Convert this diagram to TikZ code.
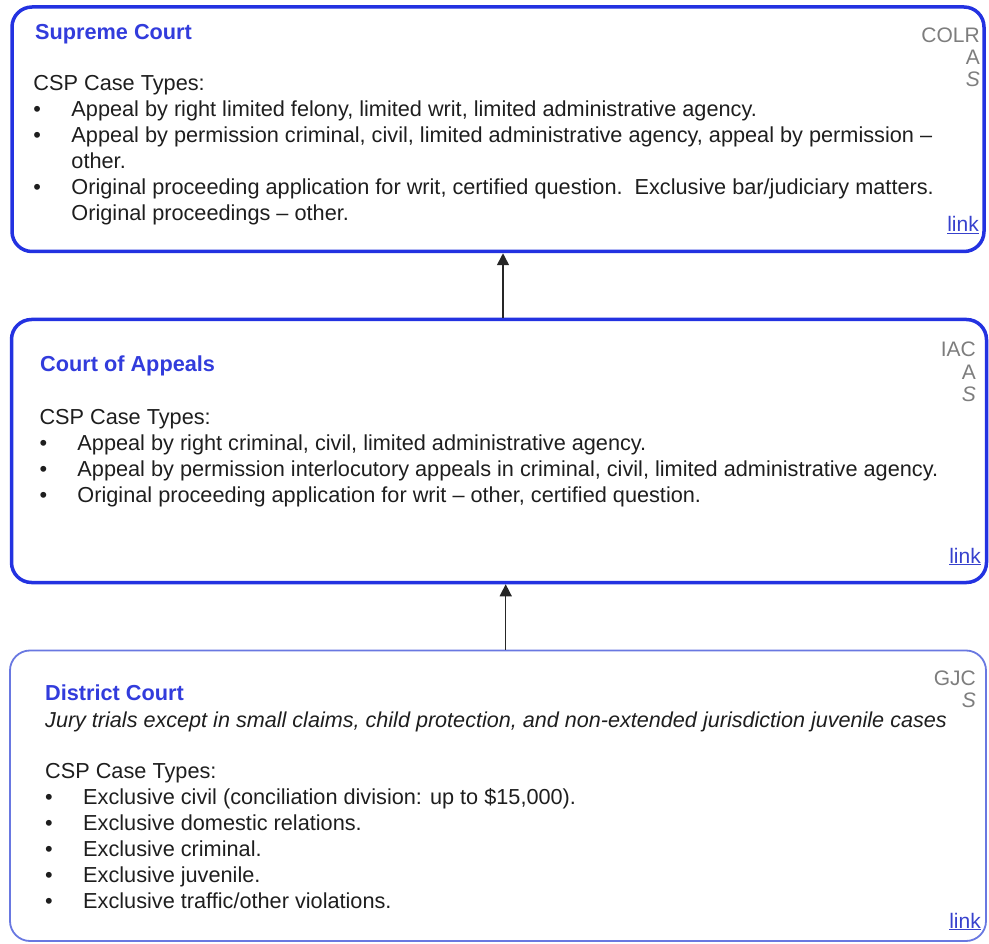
\documentclass[tikz,border=0pt]{standalone}
\usepackage{fontspec}
\setmainfont{Liberation Sans}
\usetikzlibrary{arrows.meta}

\definecolor{boxblue}{RGB}{35,50,225}
\definecolor{lightboxblue}{RGB}{105,120,225}
\definecolor{titleblue}{RGB}{50,60,220}
\definecolor{taggray}{RGB}{125,125,125}
\definecolor{linkblue}{RGB}{55,65,205}
\definecolor{bodytext}{RGB}{30,30,30}

\newcommand{\bitem}{\makebox[38pt][l]{\textbullet}}
\newcommand{\bcont}{\hspace*{38pt}}

\begin{document}
\begin{tikzpicture}[x=1pt, y=-1pt,
	court/.style={draw=boxblue, line width=3.5pt, rounded corners=20pt, inner sep=0pt},
	lowcourt/.style={court, draw=lightboxblue, line width=1.8pt},
	courtname/.style={anchor=base west, inner sep=0pt, text=titleblue, font=\fontsize{21.7}{26}\selectfont\bfseries},
	casetext/.style={anchor=base west, inner sep=0pt, align=left, text=bodytext, font=\fontsize{21.7}{26}\selectfont},
	tag/.style={anchor=base east, inner sep=0pt, align=right, text=taggray, font=\fontsize{21}{22}\selectfont},
	weblink/.style={anchor=base east, inner sep=0pt, text=linkblue, font=\fontsize{21}{26}\selectfont},
	appealarrow/.style={-{Triangle[width=12pt,length=12pt]}, line width=1.5pt, black!85}]
	\useasboundingbox (0,0) rectangle (989,944);

	\node[court, minimum width=972pt, minimum height=244.5pt] (sc) at (498,129.25) {};
	\node[court, minimum width=975pt, minimum height=263pt] (ca) at (499,451) {};
	\node[lowcourt, minimum width=976pt, minimum height=290.5pt] (dc) at (498,795.75) {};

	\draw[appealarrow] ([xshift=4pt]ca.north) -- ([xshift=4pt]ca.north |- sc.south);
	\draw[appealarrow] ([xshift=7.7pt]dc.north) -- ([xshift=7.7pt]dc.north |- ca.south);

	% multi-line nodes sit on the baseline of their last line
	\node[courtname] (scname) at (35,39.5) {Supreme Court};
	\node[tag] (sctag) at (980,87) {COLR\\A\\\textit{S}};
	\node[casetext] (sctext) at (33.3,221) {CSP Case Types:\\
		\bitem Appeal by right limited felony, limited writ, limited administrative agency.\\
		\bitem Appeal by permission criminal, civil, limited administrative agency, appeal by permission --\\
		\bcont other.\\
		\bitem Original proceeding application for writ, certified question.~~Exclusive bar/judiciary matters.\\
		\bcont Original proceedings -- other.};
	\node[weblink] (sclink) at (979,232) {\underline{link}};

	\node[courtname] (caname) at (40,371.7) {Court of Appeals};
	\node[tag] (catag) at (976,401) {IAC\\A\\\textit{S}};
	\node[casetext] (catext) at (39.3,502.3) {CSP Case Types:\\
		\bitem Appeal by right criminal, civil, limited administrative agency.\\
		\bitem Appeal by permission interlocutory appeals in criminal, civil, limited administrative agency.\\
		\bitem Original proceeding application for writ -- other, certified question.};
	\node[weblink] (calink) at (981,563) {\underline{link}};

	\node[courtname] (dcname) at (45,700) {District Court};
	\node[tag] (dctag) at (976,707) {GJC\\\textit{S}};
	\node[casetext, font=\fontsize{21.6}{26}\selectfont\itshape] (dcjury) at (45,727) {Jury trials except in small claims, child protection, and non-extended jurisdiction juvenile cases};
	\node[casetext] (dctext) at (45,908) {CSP Case Types:\\
		\bitem Exclusive civil (conciliation division: up to \$15,000).\\
		\bitem Exclusive domestic relations.\\
		\bitem Exclusive criminal.\\
		\bitem Exclusive juvenile.\\
		\bitem Exclusive traffic/other violations.};
	\node[weblink] (dclink) at (981,928) {\underline{link}};
\end{tikzpicture}
\end{document}
